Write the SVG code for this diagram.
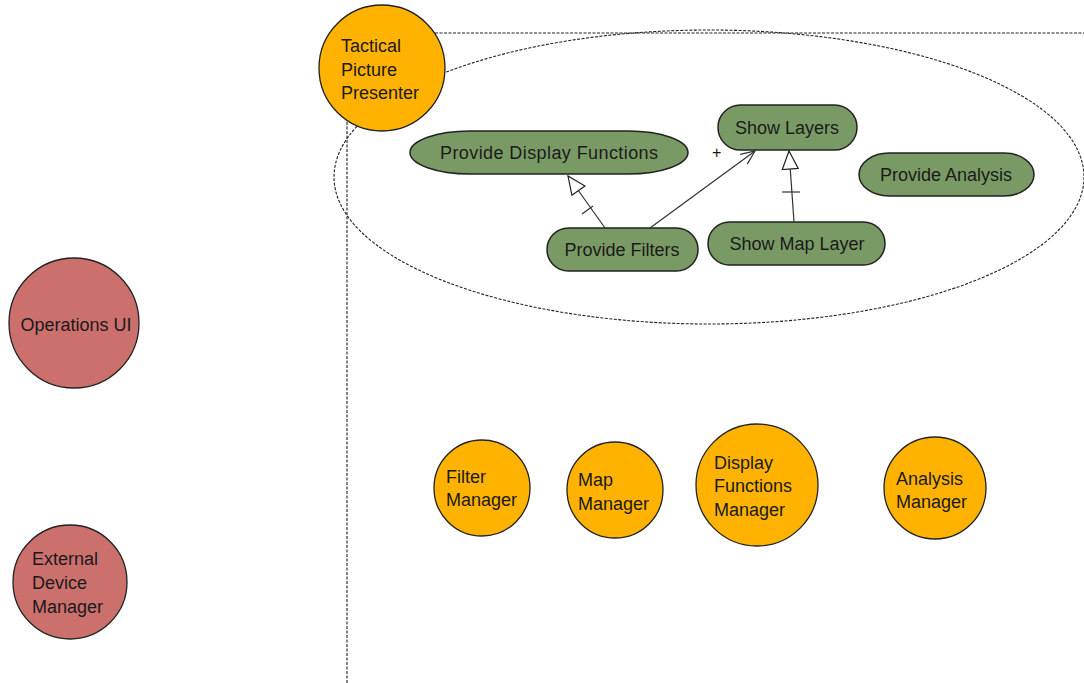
<svg xmlns="http://www.w3.org/2000/svg" width="1084" height="683" viewBox="0 0 1084 683">
  <style>
    text { font-family: "Liberation Sans", Arial, sans-serif; font-size: 18px; fill: #1a1a1a; }
    .boundary { fill: none; stroke: #222; stroke-width: 1.1; stroke-dasharray: 3 1.5; }
    .component { fill: #FFB300; stroke: #222; stroke-width: 1.3; }
    .actor { fill: #CC706E; stroke: #222; stroke-width: 1.3; }
    .usecase { fill: #7A9A65; stroke: #222; stroke-width: 1.5; }
    .link { fill: none; stroke: #333; stroke-width: 1.2; }
    .mid { text-anchor: middle; }
  </style>
  <defs>
    <marker id="hollow" viewBox="0 0 20 20" refX="19" refY="10" markerWidth="20" markerHeight="20" markerUnits="userSpaceOnUse" orient="auto">
      <path d="M1,2 L19,10 L1,18 Z" fill="#fff" stroke="#222" stroke-width="1.2"/>
    </marker>
    <marker id="open" viewBox="0 0 16 16" refX="15" refY="8" markerWidth="16" markerHeight="16" markerUnits="userSpaceOnUse" orient="auto">
      <path d="M1,2 L15,8 L1,14" fill="none" stroke="#333" stroke-width="1.2"/>
    </marker>
  </defs>

  <!-- subsystem boundary and scope ellipse -->
  <g id="boundary">
    <path class="boundary" d="M347,683 L347,33 L1084,33"/>
    <ellipse class="boundary" cx="709" cy="177" rx="375" ry="147"/>
  </g>

  <g id="tactical-picture-presenter">
    <circle class="component" cx="382" cy="68" r="63"/>
    <text x="341" y="52">Tactical</text>
    <text x="341" y="76">Picture</text>
    <text x="341" y="99">Presenter</text>
  </g>

  <g id="provide-display-functions">
    <rect class="usecase" x="410" y="131" width="278" height="43" rx="60" ry="21.5"/>
    <text class="mid" x="549" y="159" textLength="218">Provide Display Functions</text>
  </g>
  <g id="show-layers">
    <rect class="usecase" x="718" y="105" width="139" height="45" rx="22.5"/>
    <text class="mid" x="787" y="134">Show Layers</text>
  </g>
  <g id="provide-analysis">
    <rect class="usecase" x="859" y="153" width="175" height="43" rx="30" ry="21.5"/>
    <text class="mid" x="946" y="181">Provide Analysis</text>
  </g>
  <g id="provide-filters">
    <rect class="usecase" x="547" y="228" width="151" height="43" rx="21.5"/>
    <text class="mid" x="622" y="256">Provide Filters</text>
  </g>
  <g id="show-map-layer">
    <rect class="usecase" x="708" y="222" width="177" height="43" rx="21.5"/>
    <text class="mid" x="797" y="250">Show Map Layer</text>
  </g>

  <!-- relationships between use cases -->
  <g id="connectors">
    <line class="link" x1="605" y1="228" x2="568" y2="176" marker-end="url(#hollow)"/>
    <line class="link" x1="582" y1="214" x2="593" y2="206"/>
    <line class="link" x1="650" y1="228" x2="755" y2="151" marker-end="url(#open)"/>
    <text x="712" y="158" style="font-size:16px; fill:#111">+</text>
    <line class="link" x1="794" y1="222" x2="789" y2="151" marker-end="url(#hollow)"/>
    <line class="link" x1="782" y1="192" x2="800" y2="192"/>
  </g>

  <g id="filter-manager">
    <circle class="component" cx="482" cy="488" r="48"/>
    <text x="446" y="483">Filter</text>
    <text x="446" y="506">Manager</text>
  </g>
  <g id="map-manager">
    <circle class="component" cx="615" cy="490" r="48"/>
    <text x="578" y="486">Map</text>
    <text x="578" y="510">Manager</text>
  </g>
  <g id="display-functions-manager">
    <circle class="component" cx="757" cy="485" r="61"/>
    <text x="714" y="469">Display</text>
    <text x="714" y="492">Functions</text>
    <text x="714" y="516">Manager</text>
  </g>
  <g id="analysis-manager">
    <circle class="component" cx="935" cy="488" r="51"/>
    <text x="896" y="485">Analysis</text>
    <text x="896" y="508">Manager</text>
  </g>

  <g id="operations-ui">
    <circle class="actor" cx="74" cy="323" r="65"/>
    <text class="mid" x="76" y="331">Operations UI</text>
  </g>
  <g id="external-device-manager">
    <circle class="actor" cx="70" cy="582" r="57"/>
    <text x="32" y="565">External</text>
    <text x="32" y="589">Device</text>
    <text x="32" y="613">Manager</text>
  </g>
</svg>
